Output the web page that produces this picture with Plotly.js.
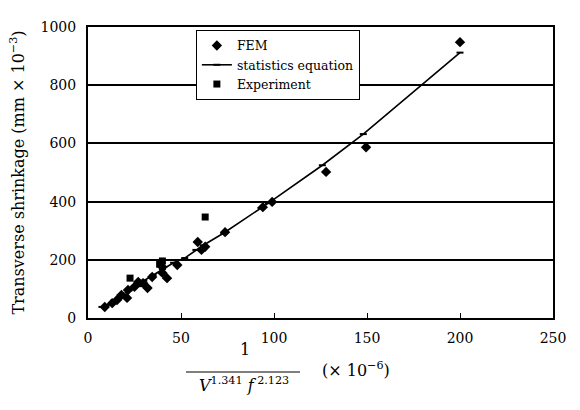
<!DOCTYPE html>
<html>
<head>
<meta charset="utf-8">
<script src="https://cdn.plot.ly/plotly-3.0.1.min.js"></script>
<style>html,body{margin:0;padding:0;background:#fff;}#chart{width:580px;height:410px;}</style>
</head>
<body>
<div id="chart"></div>
<script>
// FEM results
const femX = [9, 13, 15.6, 18, 21, 21.5, 25, 27, 29.6, 32, 34.5, 40, 40, 42.5, 48, 59, 61, 63, 73.7, 94, 99, 128, 149.5, 200];
const femY = [38, 51, 62, 79, 69, 96, 107, 124, 120, 103, 141, 155, 175, 137, 182, 261, 234, 245, 295, 381, 399, 502, 587, 948];
// statistics equation
const statX = [7.5, 10, 14, 18, 22, 26, 30, 35, 40, 46, 52, 58, 62, 73, 93, 97, 126, 148, 200];
const statY = [38, 45, 60, 78, 95, 112, 128, 148, 168, 190, 206, 234, 250, 292, 378, 395, 525, 632, 912];
// experiments
const expX = [22.6, 28, 38.5, 40, 63];
const expY = [137, 118, 185, 196, 347];

const xTicks = [0, 50, 100, 150, 200, 250];
const yTicks = [0, 200, 400, 600, 800, 1000];

const serif = "DejaVu Serif";

const traces = [
  {x: femX, y: femY, name: 'FEM', mode: 'markers', type: 'scatter',
   marker: {symbol: 'diamond', size: 8, color: '#000'}},
  {x: statX, y: statY, name: 'statistics equation', mode: 'lines+markers', type: 'scatter',
   line: {color: '#000', width: 1.6},
   marker: {symbol: 'line-ew', size: 5, color: '#000', line: {color: '#000', width: 2}}},
  {x: expX, y: expY, name: 'Experiment', mode: 'markers', type: 'scatter',
   marker: {symbol: 'square', size: 7, color: '#000'}}
];

const layout = {
  width: 580, height: 410,
  margin: {l: 88, r: 27, t: 27, b: 92},
  paper_bgcolor: '#fff', plot_bgcolor: '#fff',
  font: {family: serif, size: 14, color: '#000'},
  showlegend: true,
  legend: {x: 0.232, y: 0.99, xanchor: 'left', yanchor: 'top',
    bordercolor: '#000', borderwidth: 1, bgcolor: '#fff',
    font: {family: serif, size: 12.5, color: '#000'},
    tracegroupgap: 0, itemwidth: 30},
  xaxis: {range: [0, 250], tickvals: xTicks, ticktext: xTicks.map(String),
    tickfont: {family: serif, size: 14},
    showgrid: false, zeroline: false, showline: true, linecolor: '#000', linewidth: 2,
    mirror: true, ticks: 'inside', ticklen: 5, tickcolor: '#000', tickwidth: 1,
    ticklabelstandoff: 6, fixedrange: true},
  yaxis: {range: [0, 1000], tickvals: yTicks, ticktext: yTicks.map(String),
    tickfont: {family: serif, size: 14},
    showgrid: true, gridcolor: '#000', gridwidth: 2, zeroline: false,
    showline: true, linecolor: '#000', linewidth: 2, mirror: true,
    ticks: '', ticklabelstandoff: 7,
    title: {text: 'Transverse shrinkage (mm × 10<sup>−3</sup>)', font: {family: serif, size: 16}, standoff: 12},
    fixedrange: true},
  shapes: [
    {type: 'line', xref: 'paper', yref: 'paper',
     x0: (186 - 88) / 465, x1: (300 - 88) / 465,
     y0: -(372 - 318) / 291, y1: -(372 - 318) / 291, line: {color: '#000', width: 1.2}}
  ],
  annotations: [
    {xref: 'paper', yref: 'paper', x: (245 - 88) / 465, y: -(361 - 318) / 291,
     text: '1', showarrow: false, font: {family: serif, size: 16}},
    {xref: 'paper', yref: 'paper', x: (244 - 88) / 465, y: -(372 - 318) / 291, yanchor: 'top',
     text: '<i>V</i><sup>1.341</sup> <i>f</i><sup> 2.123</sup>', showarrow: false, font: {family: serif, size: 16}},
    {xref: 'paper', yref: 'paper', x: (356 - 88) / 465, y: -(382 - 318) / 291,
     text: '(× 10<sup>−6</sup>)', showarrow: false, font: {family: serif, size: 16}}
  ]
};

Plotly.newPlot('chart', traces, layout, {displayModeBar: false, staticPlot: true});
</script>
</body>
</html>
